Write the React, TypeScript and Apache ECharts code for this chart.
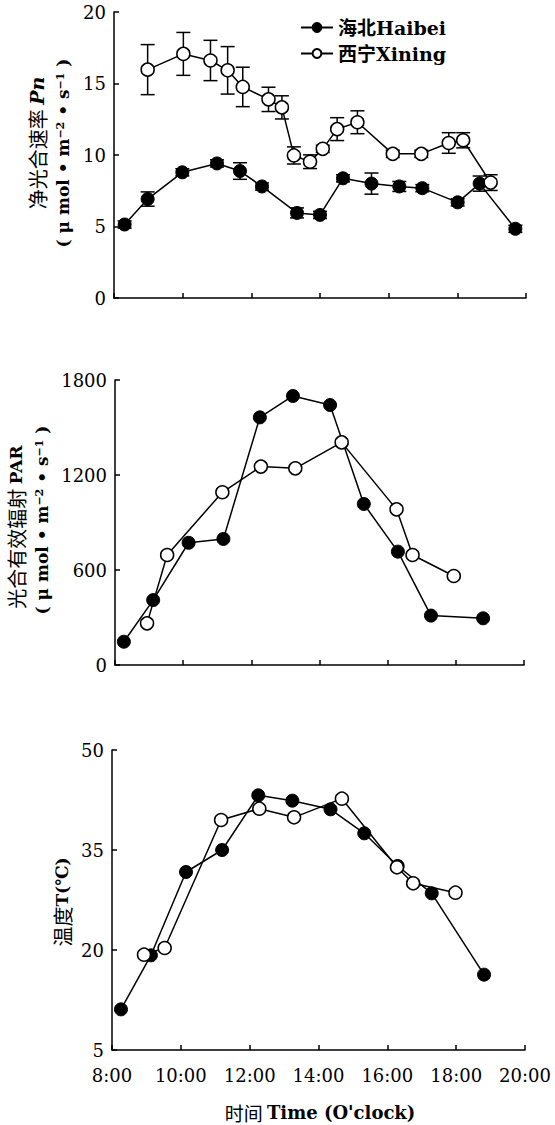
import React, { useEffect, useRef } from "react";
import * as echarts from "echarts";

// ---- Data ----
const pnHaibeiTime = [8.31, 8.98, 9.99, 11.0, 11.67, 12.31, 13.33, 14.0, 14.67, 15.5, 16.31, 16.98, 18.01, 18.65, 19.69];
const pnHaibei = [5.14, 6.92, 8.79, 9.41, 8.88, 7.8, 5.95, 5.81, 8.37, 8.0, 7.8, 7.68, 6.69, 8.0, 4.84];
const pnHaibeiErr = [0.25, 0.5, 0.25, 0.25, 0.58, 0.25, 0.35, 0.25, 0.25, 0.74, 0.35, 0.25, 0.25, 0.53, 0.25];

const pnXiningTime = [8.98, 10.02, 10.81, 11.31, 11.75, 12.5, 12.89, 13.24, 13.71, 14.08, 14.5, 15.09, 16.12, 16.95, 17.75, 18.17, 18.97];
const pnXining = [15.97, 17.07, 16.61, 15.92, 14.76, 13.89, 13.33, 9.97, 9.53, 10.43, 11.81, 12.29, 10.08, 10.08, 10.84, 11.03, 8.07];
const pnXiningErr = [1.75, 1.5, 1.41, 1.66, 1.38, 0.85, 0.81, 0.6, 0.48, 0.25, 0.8, 0.8, 0.25, 0.25, 0.72, 0.53, 0.55];

const parHaibeiTime = [8.26, 9.12, 10.16, 11.18, 12.25, 13.22, 14.31, 15.3, 16.3, 17.27, 18.8];
const parHaibei = [147, 410, 772, 796, 1564, 1699, 1642, 1017, 716, 312, 295];

const parXiningTime = [8.94, 9.53, 11.15, 12.28, 13.29, 14.65, 16.26, 16.73, 17.94];
const parXining = [263, 695, 1091, 1253, 1242, 1406, 983, 695, 562];

const tHaibeiTime = [8.26, 9.13, 10.15, 11.2, 12.25, 13.24, 14.35, 15.33, 16.3, 17.29, 18.81];
const tHaibei = [11.1, 19.2, 31.7, 35.0, 43.2, 42.4, 41.1, 37.5, 32.6, 28.5, 16.3];

const tXiningTime = [8.93, 9.53, 11.17, 12.28, 13.29, 14.68, 16.28, 16.75, 17.98];
const tXining = [19.3, 20.3, 39.5, 41.2, 39.9, 42.7, 32.4, 30.0, 28.6];

const pnTicks = [0, 5, 10, 15, 20];
const parTicks = [0, 600, 1200, 1800];
const tTicks = [5, 20, 35, 50];

const NAME_HB = "海北Haibei";
const NAME_XN = "西宁Xining";

const SERIF = "'DejaVu Serif', 'Liberation Serif', 'Noto Sans CJK SC', serif";
const CJK = "'Noto Sans CJK SC', 'DejaVu Serif', serif";

const pairs = (xs: number[], ys: number[]) => xs.map((x, i) => [x, ys[i]]);
const triples = (xs: number[], ys: number[], es: number[]) => xs.map((x, i) => [x, ys[i], es[i]]);

export default function App() {
  const ref = useRef<HTMLDivElement>(null);

  useEffect(() => {
    document.body.style.margin = "0";
    if (!ref.current) return;
    const chart = echarts.init(ref.current, undefined, { renderer: "svg" });

    const axisLine = { show: true, lineStyle: { color: "#000", width: 1.5 } };
    const axisTick = { show: true, inside: true, length: 5, lineStyle: { color: "#000", width: 1.5 } };
    const yLabel = { fontFamily: SERIF, fontSize: 18, color: "#000", margin: 8, formatter: (v: number) => String(v) };

    const mkX = (gi: number, showLabel: boolean) => ({
      type: "value",
      gridIndex: gi,
      min: 8,
      max: 20,
      interval: 2,
      axisLine,
      axisTick,
      splitLine: { show: false },
      axisLabel: showLabel
        ? { show: true, fontFamily: SERIF, fontSize: 18, color: "#000", margin: 16, formatter: (v: number) => `${v}:00` }
        : { show: false },
    });

    const lineStyle = { color: "#000", width: 1.5 };
    const hbSeries = (xi: number, data: number[][]) => ({
      name: NAME_HB,
      type: "line",
      xAxisIndex: xi,
      yAxisIndex: xi,
      data,
      symbol: "circle",
      symbolSize: 13,
      lineStyle,
      itemStyle: { color: "#000", borderColor: "#000", borderWidth: 1 },
      z: 3,
    });
    const xnSeries = (xi: number, data: number[][]) => ({
      name: NAME_XN,
      type: "line",
      xAxisIndex: xi,
      yAxisIndex: xi,
      data,
      symbol: "circle",
      symbolSize: 13,
      lineStyle,
      itemStyle: { color: "#fff", borderColor: "#000", borderWidth: 1.5 },
      z: 4,
    });

    const errRender = (params: any, api: any) => {
      const x = api.value(0);
      const y = api.value(1);
      const e = api.value(2);
      const hi = api.coord([x, y + e]);
      const lo = api.coord([x, y - e]);
      const w = 7;
      const st = { stroke: "#000", lineWidth: 1.5 };
      return {
        type: "group",
        children: [
          { type: "line", shape: { x1: hi[0], y1: hi[1], x2: lo[0], y2: lo[1] }, style: st },
          { type: "line", shape: { x1: hi[0] - w, y1: hi[1], x2: hi[0] + w, y2: hi[1] }, style: st },
          { type: "line", shape: { x1: lo[0] - w, y1: lo[1], x2: lo[0] + w, y2: lo[1] }, style: st },
        ],
      };
    };
    const errSeries = (name: string, data: number[][]) => ({
      name,
      type: "custom",
      xAxisIndex: 0,
      yAxisIndex: 0,
      renderItem: errRender,
      data,
      encode: { x: 0, y: 1 },
      z: 1,
      silent: true,
    });

    const rich = {
      it: { fontFamily: SERIF, fontStyle: "italic", fontWeight: "bold", fontSize: 19, fill: "#000" },
      sup: { fontFamily: SERIF, fontWeight: "bold", fontSize: 11, verticalAlign: "top", lineHeight: 10, fill: "#000" },
      b: { fontFamily: SERIF, fontWeight: "bold", fontSize: 17, fill: "#000" },
      t: { fontFamily: SERIF, fontWeight: "bold", fontSize: 18, fill: "#000" },
    };
    const unitText = "{b|( μ mol • m}{sup|−2}{b| • s}{sup|−1}{b| )}";

    const option: any = {
      animation: false,
      backgroundColor: "#fff",
      grid: [
        { left: 114, top: 12, width: 412, height: 286 },
        { left: 115, top: 380, width: 409, height: 285 },
        { left: 112, top: 750, width: 413, height: 300 },
      ],
      xAxis: [mkX(0, false), mkX(1, false), mkX(2, true)],
      yAxis: [
        {
          type: "value", gridIndex: 0, min: 0, max: 20,
          axisLine, axisTick: { ...axisTick, customValues: pnTicks },
          axisLabel: { ...yLabel, customValues: pnTicks }, splitLine: { show: false },
        },
        {
          type: "value", gridIndex: 1, min: 0, max: 1800,
          axisLine, axisTick: { ...axisTick, customValues: parTicks },
          axisLabel: { ...yLabel, customValues: parTicks }, splitLine: { show: false },
        },
        {
          type: "value", gridIndex: 2, min: 5, max: 50,
          axisLine, axisTick: { ...axisTick, customValues: tTicks },
          axisLabel: { ...yLabel, customValues: tTicks }, splitLine: { show: false },
        },
      ],
      legend: {
        data: [NAME_HB, NAME_XN],
        orient: "vertical",
        left: 295,
        top: 13,
        itemWidth: 32,
        itemHeight: 11,
        itemGap: 7,
        selectedMode: false,
        textStyle: { fontFamily: SERIF, fontSize: 19, fontWeight: "bold", color: "#000" },
      },
      series: [
        errSeries("errHaibei", triples(pnHaibeiTime, pnHaibei, pnHaibeiErr)),
        errSeries("errXining", triples(pnXiningTime, pnXining, pnXiningErr)),
        hbSeries(0, pairs(pnHaibeiTime, pnHaibei)),
        xnSeries(0, pairs(pnXiningTime, pnXining)),
        hbSeries(1, pairs(parHaibeiTime, parHaibei)),
        xnSeries(1, pairs(parXiningTime, parXining)),
        hbSeries(2, pairs(tHaibeiTime, tHaibei)),
        xnSeries(2, pairs(tXiningTime, tXining)),
      ],
      graphic: [
        {
          type: "text", x: 37, y: 143, rotation: Math.PI / 2,
          style: {
            text: "净光合速率 {it|Pn}", rich,
            fontFamily: CJK, fontSize: 20, fill: "#000", align: "center", verticalAlign: "middle",
          },
        },
        {
          type: "text", x: 63, y: 153, rotation: Math.PI / 2,
          style: { text: unitText, rich, fontFamily: SERIF, fontSize: 17, fill: "#000", align: "center", verticalAlign: "middle" },
        },
        {
          type: "text", x: 16, y: 527, rotation: Math.PI / 2,
          style: {
            text: "光合有效辐射 {b|PAR}", rich,
            fontFamily: CJK, fontSize: 20, fill: "#000", align: "center", verticalAlign: "middle",
          },
        },
        {
          type: "text", x: 42, y: 520, rotation: Math.PI / 2,
          style: { text: unitText, rich, fontFamily: SERIF, fontSize: 17, fill: "#000", align: "center", verticalAlign: "middle" },
        },
        {
          type: "text", x: 62, y: 902, rotation: Math.PI / 2,
          style: {
            text: "温度{b|T(℃)}", rich,
            fontFamily: CJK, fontSize: 20, fill: "#000", align: "center", verticalAlign: "middle",
          },
        },
        {
          type: "text", x: 320, y: 1112,
          style: {
            text: "时间 {t|Time (O'clock)}", rich,
            fontFamily: CJK, fontSize: 19, fill: "#000", align: "center", verticalAlign: "middle",
          },
        },
      ],
    };

    chart.setOption(option);
    return () => chart.dispose();
  }, []);

  return <div ref={ref} style={{ width: 555, height: 1125 }} />;
}
